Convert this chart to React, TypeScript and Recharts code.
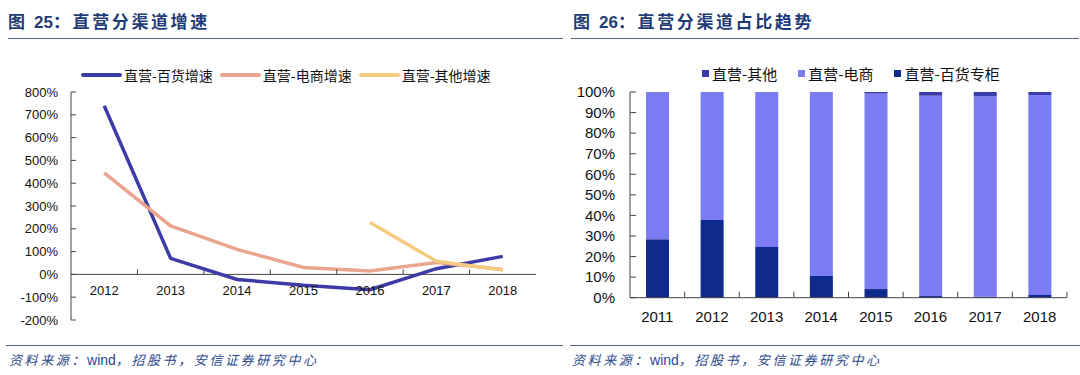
import React from 'react'
import { LineChart, Line, XAxis, YAxis, ReferenceLine, BarChart, Bar, Legend } from 'recharts'

// 图25 直营分渠道增速 (%)
const GROWTH_YEARS = ['2012', '2013', '2014', '2015', '2016', '2017', '2018']
const DEPT_GROWTH = [740, 70, -22, -48, -67, 25, 79]
const ECOM_GROWTH = [445, 213, 110, 30, 15, 52, 22]
const OTHER_GROWTH: (number | null)[] = [null, null, null, null, 228, 58, 19]
const GROWTH_TICKS = [-200, -100, 0, 100, 200, 300, 400, 500, 600, 700, 800]
const GROWTH_NAMES = ['直营-百货增速', '直营-电商增速', '直营-其他增速']
const GROWTH_COLORS = ['#3d3ca6', '#e9a58d', '#f6cb80']

// 图26 直营分渠道占比 (%)
const SHARE_YEARS = ['2011', '2012', '2013', '2014', '2015', '2016', '2017', '2018']
const DEPT_SHARE = [28.4, 37.8, 24.7, 10.6, 4.2, 0.8, 0.5, 1.3]
const ECOM_SHARE = [71.6, 62.2, 75.3, 89.4, 95.0, 97.4, 97.4, 97.1]
const OTHER_SHARE = [0, 0, 0, 0, 0.8, 1.8, 2.1, 1.6]
const SHARE_TICKS = [0, 10, 20, 30, 40, 50, 60, 70, 80, 90, 100]
const SHARE_NAMES = ['直营-其他', '直营-电商', '直营-百货专柜']
const SHARE_COLORS = ['#3b3bb0', '#7b7bf3', '#0e2a8b']

const growthData = GROWTH_YEARS.map((year, i) => ({
  year,
  dept: DEPT_GROWTH[i],
  ecom: ECOM_GROWTH[i],
  other: OTHER_GROWTH[i],
}))

const shareData = SHARE_YEARS.map((year, i) => ({
  year,
  dept: DEPT_SHARE[i],
  ecom: ECOM_SHARE[i],
  other: OTHER_SHARE[i],
}))

const FONT = "'Liberation Sans', Arial, 'Noto Sans CJK SC', sans-serif"
const CJK = "'Noto Sans CJK SC', sans-serif"
const AXIS = '#444'

// left chart geometry
const L_W = 545
const L_H = 280
const L_M = { top: 32, right: 9, bottom: 0, left: 11 }
const L_XAXIS_H = 20
const L_PLOT_H = L_H - L_M.top - L_M.bottom - L_XAXIS_H
const L_ZERO_UP = L_PLOT_H * 0.2 // distance from plot bottom to the 0% line
const L_STEP = (L_W - L_M.left - 60 - L_M.right) / GROWTH_YEARS.length

// right chart geometry
const R_W = 520
const R_H = 280
const R_M = { top: 32, right: 13, bottom: 0, left: 8 }
const R_STEP = (R_W - R_M.left - 62 - R_M.right) / SHARE_YEARS.length

const GrowthTick = (props: any) => {
  const { x, y, payload, index } = props
  const zeroY = y - L_ZERO_UP
  return (
    <g>
      {index < GROWTH_YEARS.length - 1 && (
        <line x1={x + L_STEP / 2} x2={x + L_STEP / 2} y1={zeroY - 5} y2={zeroY} stroke={AXIS} />
      )}
      <text x={x} y={zeroY + 21} textAnchor="middle" fontSize={13} fill="#111" fontFamily={FONT}>
        {payload.value}
      </text>
    </g>
  )
}

const ShareTick = (props: any) => {
  const { x, y, payload } = props
  return (
    <g>
      <line x1={x + R_STEP / 2} x2={x + R_STEP / 2} y1={y - 6} y2={y} stroke={AXIS} />
      <text x={x} y={y + 24} textAnchor="middle" fontSize={15} fill="#111" fontFamily={FONT}>
        {payload.value}
      </text>
    </g>
  )
}

const GrowthLegend = () => (
  <div style={{ display: 'flex', alignItems: 'center', fontFamily: CJK, fontSize: 14, color: '#111', height: 18 }}>
    {GROWTH_NAMES.map((n, i) => (
      <div key={n} style={{ display: 'flex', alignItems: 'center', marginRight: 7 }}>
        <span style={{ display: 'inline-block', width: 41, height: 4, borderRadius: 2, background: GROWTH_COLORS[i], marginRight: 2 }} />
        <span>{n}</span>
      </div>
    ))}
  </div>
)

const ShareLegend = () => (
  <div style={{ display: 'flex', alignItems: 'center', fontFamily: CJK, fontSize: 15, color: '#111', height: 18 }}>
    {SHARE_NAMES.map((n, i) => (
      <div key={n} style={{ display: 'flex', alignItems: 'center', marginRight: 21 }}>
        <span style={{ display: 'inline-block', width: 7, height: 7, background: SHARE_COLORS[i], marginRight: 3 }} />
        <span>{n}</span>
      </div>
    ))}
  </div>
)

const titleStyle: React.CSSProperties = {
  position: 'absolute',
  top: 10,
  fontFamily: CJK,
  fontWeight: 700,
  fontSize: 17,
  lineHeight: '22px',
  color: '#1f3c78',
  letterSpacing: 2.6,
  whiteSpace: 'nowrap',
}

const sourceStyle: React.CSSProperties = {
  position: 'absolute',
  top: 351,
  fontFamily: CJK,
  fontStyle: 'italic',
  fontSize: 13,
  lineHeight: '18px',
  color: '#2b4a8c',
  letterSpacing: 2.6,
  whiteSpace: 'nowrap',
}

const rule = (left: number, width: number, top: number): React.CSSProperties => ({
  position: 'absolute',
  left,
  width,
  top,
  height: 1,
  background: '#55657c',
})

const SOURCE = '资料来源：'

export default function App() {
  return (
    <div style={{ position: 'absolute', left: 0, top: 0, width: 1080, height: 375, background: '#fff', overflow: 'hidden' }}>
      <div style={{ ...titleStyle, left: 8 }}>
        图 <span style={{ fontFamily: FONT, letterSpacing: 0 }}>25</span>：直营分渠道增速
      </div>
      <div style={{ ...titleStyle, left: 573 }}>
        图 <span style={{ fontFamily: FONT, letterSpacing: 0 }}>26</span>：直营分渠道占比趋势
      </div>
      <div style={rule(8, 555, 38)} />
      <div style={rule(571, 508, 38)} />

      <div style={{ position: 'absolute', left: 0, top: 60 }}>
        <LineChart width={L_W} height={L_H} data={growthData} margin={L_M}>
          <XAxis
            dataKey="year"
            height={L_XAXIS_H}
            axisLine={false}
            tickLine={false}
            tickSize={0}
            tickMargin={0}
            interval={0}
            padding={{ left: L_STEP / 2, right: L_STEP / 2 }}
            tick={<GrowthTick />}
          />
          <YAxis
            width={60}
            domain={[-200, 800]}
            ticks={GROWTH_TICKS}
            interval={0}
            tickFormatter={(v: number) => `${v}%`}
            tickSize={-5}
            tickMargin={18}
            axisLine={{ stroke: AXIS }}
            tickLine={{ stroke: AXIS }}
            tick={{ fill: '#111', fontSize: 13, fontFamily: FONT }}
          />
          <ReferenceLine y={0} stroke={AXIS} />
          <Line type="linear" dataKey="dept" name={GROWTH_NAMES[0]} stroke={GROWTH_COLORS[0]} strokeWidth={3.5} dot={false} isAnimationActive={false} />
          <Line type="linear" dataKey="ecom" name={GROWTH_NAMES[1]} stroke={GROWTH_COLORS[1]} strokeWidth={3.5} dot={false} isAnimationActive={false} />
          <Line type="linear" dataKey="other" name={GROWTH_NAMES[2]} stroke={GROWTH_COLORS[2]} strokeWidth={3.5} dot={false} isAnimationActive={false} />
          <Legend
            layout="horizontal"
            verticalAlign="middle"
            align="center"
            content={<GrowthLegend />}
            wrapperStyle={{ top: 6, left: 81, width: 460, height: 18 }}
          />
        </LineChart>
      </div>

      <div style={{ position: 'absolute', left: 560, top: 60 }}>
        <BarChart width={R_W} height={R_H} data={shareData} margin={R_M} barSize={23}>
          <XAxis
            dataKey="year"
            height={42.3}
            axisLine={{ stroke: AXIS }}
            tickLine={false}
            tickSize={0}
            tickMargin={0}
            interval={0}
            tick={<ShareTick />}
          />
          <YAxis
            width={62}
            domain={[0, 100]}
            ticks={SHARE_TICKS}
            interval={0}
            tickFormatter={(v: number) => `${v}%`}
            tickSize={-6}
            tickMargin={21}
            axisLine={{ stroke: AXIS }}
            tickLine={{ stroke: AXIS }}
            tick={{ fill: '#111', fontSize: 15, fontFamily: FONT }}
          />
          <Bar dataKey="dept" stackId="s" name={SHARE_NAMES[2]} fill={SHARE_COLORS[2]} isAnimationActive={false} />
          <Bar dataKey="ecom" stackId="s" name={SHARE_NAMES[1]} fill={SHARE_COLORS[1]} isAnimationActive={false} />
          <Bar dataKey="other" stackId="s" name={SHARE_NAMES[0]} fill={SHARE_COLORS[0]} isAnimationActive={false} />
          <Legend
            layout="horizontal"
            verticalAlign="middle"
            align="center"
            content={<ShareLegend />}
            wrapperStyle={{ top: 4, left: 142, width: 360, height: 18 }}
          />
        </BarChart>
      </div>

      <div style={rule(6, 557, 345)} />
      <div style={rule(570, 510, 345)} />
      <div style={{ ...sourceStyle, left: 9 }}>
        {SOURCE}<span style={{ fontFamily: FONT, fontStyle: 'normal', letterSpacing: 0, fontSize: 14 }}>wind</span>，招股书，安信证券研究中心
      </div>
      <div style={{ ...sourceStyle, left: 572 }}>
        {SOURCE}<span style={{ fontFamily: FONT, fontStyle: 'normal', letterSpacing: 0, fontSize: 14 }}>wind</span>，招股书，安信证券研究中心
      </div>
    </div>
  )
}
